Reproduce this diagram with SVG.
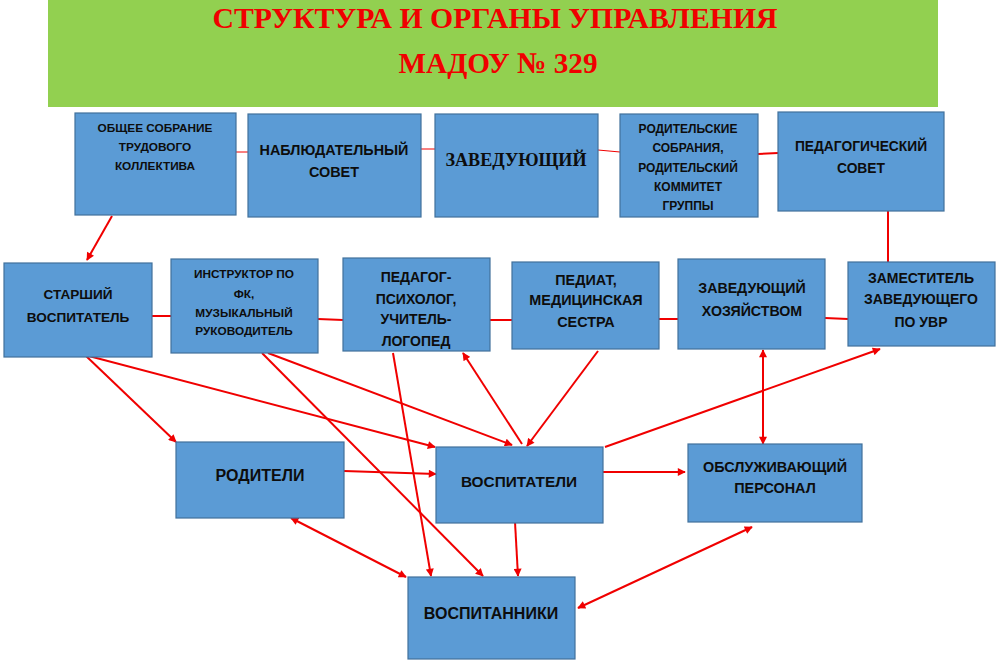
<svg xmlns="http://www.w3.org/2000/svg" width="1000" height="667" viewBox="0 0 1000 667">
<style>
.box{fill:#5B9BD5;stroke:#41719C;stroke-width:1.2}
.t{font-family:"Liberation Sans",Arial,sans-serif;font-weight:bold;fill:#0d0d0d;text-anchor:middle}
.title{font-family:"Liberation Serif","Times New Roman",serif;font-weight:bold;fill:#F00000;text-anchor:middle}
.c{stroke:#F00000;stroke-width:2;fill:none}
.thin{stroke:#F00000;stroke-width:1;fill:none}
.a{marker-end:url(#ah)}
.b{marker-start:url(#ah);marker-end:url(#ah)}
</style>
<defs>
<marker id="ah" viewBox="0 0 10 10" refX="9" refY="5" markerWidth="9" markerHeight="8" markerUnits="userSpaceOnUse" orient="auto-start-reverse">
<path d="M0,0 L10,5 L0,10 z" fill="#F00000"/>
</marker>
</defs>
<rect width="1000" height="667" fill="#ffffff"/>
<g id="header">
<rect x="48" y="0" width="890" height="107" fill="#92D050"/>
<text class="title" x="495" y="28" font-size="30" textLength="565" lengthAdjust="spacingAndGlyphs">СТРУКТУРА И ОРГАНЫ УПРАВЛЕНИЯ</text>
<text class="title" x="498" y="73" font-size="30" textLength="199" lengthAdjust="spacingAndGlyphs">МАДОУ № 329</text>
</g>
<g id="connectors">
<line class="thin" x1="236" y1="152" x2="248" y2="152"/>
<line class="thin" x1="421" y1="149" x2="435" y2="149"/>
<line class="thin" x1="598" y1="150" x2="620" y2="152"/>
<line class="c" x1="758" y1="154" x2="778" y2="153"/>
<line class="c a" x1="112" y1="216" x2="87" y2="260"/>
<line class="c" x1="888" y1="211" x2="888" y2="262"/>
<line class="c" x1="152" y1="316" x2="171" y2="316"/>
<line class="c" x1="318" y1="319" x2="343" y2="320"/>
<line class="c" x1="490" y1="320" x2="512" y2="320"/>
<line class="c" x1="659" y1="319" x2="678" y2="319"/>
<line class="c" x1="825" y1="318" x2="848" y2="319"/>
<line class="c a" x1="85" y1="355" x2="176" y2="442"/>
<line class="c a" x1="85" y1="355" x2="435" y2="447"/>
<line class="c a" x1="262" y1="353" x2="483" y2="576"/>
<line class="c a" x1="268" y1="353" x2="512" y2="445"/>
<line class="c a" x1="393" y1="353" x2="431" y2="576"/>
<line class="c" x1="522" y1="444" x2="463" y2="353" marker-end="url(#ah)"/>
<line class="c a" x1="598" y1="351" x2="527" y2="446"/>
<line class="c a" x1="344" y1="471" x2="436" y2="474"/>
<line class="c b" x1="291" y1="518" x2="406" y2="577"/>
<line class="c a" x1="515" y1="522" x2="518" y2="576"/>
<line class="c a" x1="603" y1="472" x2="685" y2="472"/>
<line class="c a" x1="605" y1="447" x2="880" y2="349"/>
<line class="c b" x1="763" y1="350" x2="763" y2="444"/>
<line class="c b" x1="578" y1="608" x2="752" y2="527"/>
</g>
<g id="n1"><rect class="box" x="75" y="113" width="161" height="102"/>
<text class="t" x="155" font-size="11.8"><tspan x="155" y="132">ОБЩЕЕ СОБРАНИЕ</tspan><tspan x="155" y="151">ТРУДОВОГО</tspan><tspan x="155" y="170">КОЛЛЕКТИВА</tspan></text></g>
<g id="n2"><rect class="box" x="248" y="114" width="173" height="103"/>
<text class="t" x="334" font-size="14.4"><tspan x="334" y="155">НАБЛЮДАТЕЛЬНЫЙ</tspan><tspan x="334" y="177">СОВЕТ</tspan></text></g>
<g id="n3"><rect class="box" x="435" y="114" width="163" height="103"/>
<text class="title" x="516" y="166" font-size="19" style="fill:#0d0d0d" textLength="141" lengthAdjust="spacingAndGlyphs">ЗАВЕДУЮЩИЙ</text></g>
<g id="n4"><rect class="box" x="620" y="114" width="138" height="103"/>
<text class="t" x="688" font-size="12"><tspan x="688" y="133">РОДИТЕЛЬСКИЕ</tspan><tspan x="688" y="152">СОБРАНИЯ,</tspan><tspan x="688" y="172">РОДИТЕЛЬСКИЙ</tspan><tspan x="688" y="191">КОММИТЕТ</tspan><tspan x="688" y="210">ГРУППЫ</tspan></text></g>
<g id="n5"><rect class="box" x="778" y="112" width="166" height="99"/>
<text class="t" x="861" font-size="13.8"><tspan x="861" y="151">ПЕДАГОГИЧЕСКИЙ</tspan><tspan x="861" y="173">СОВЕТ</tspan></text></g>
<g id="n6"><rect class="box" x="4" y="263" width="148" height="94"/>
<text class="t" x="78" font-size="13.6"><tspan x="78" y="299">СТАРШИЙ</tspan><tspan x="78" y="322">ВОСПИТАТЕЛЬ</tspan></text></g>
<g id="n7"><rect class="box" x="171" y="259" width="147" height="94"/>
<text class="t" x="244" font-size="11.8"><tspan x="244" y="278">ИНСТРУКТОР ПО</tspan><tspan x="244" y="298">ФК,</tspan><tspan x="244" y="317">МУЗЫКАЛЬНЫЙ</tspan><tspan x="244" y="335">РУКОВОДИТЕЛЬ</tspan></text></g>
<g id="n8"><rect class="box" x="343" y="258" width="147" height="93"/>
<text class="t" x="416" font-size="14"><tspan x="416" y="282">ПЕДАГОГ-</tspan><tspan x="416" y="304">ПСИХОЛОГ,</tspan><tspan x="416" y="324">УЧИТЕЛЬ-</tspan><tspan x="416" y="346">ЛОГОПЕД</tspan></text></g>
<g id="n9"><rect class="box" x="512" y="262" width="147" height="87"/>
<text class="t" x="586" font-size="14.4"><tspan x="586" y="285">ПЕДИАТ,</tspan><tspan x="586" y="305">МЕДИЦИНСКАЯ</tspan><tspan x="586" y="327">СЕСТРА</tspan></text></g>
<g id="n10"><rect class="box" x="678" y="259" width="147" height="90"/>
<text class="t" x="752" font-size="14.2"><tspan x="752" y="293">ЗАВЕДУЮЩИЙ</tspan><tspan x="752" y="316">ХОЗЯЙСТВОМ</tspan></text></g>
<g id="n11"><rect class="box" x="848" y="262" width="147" height="84"/>
<text class="t" x="921" font-size="14"><tspan x="921" y="283">ЗАМЕСТИТЕЛЬ</tspan><tspan x="921" y="304">ЗАВЕДУЮЩЕГО</tspan><tspan x="921" y="327">ПО УВР</tspan></text></g>
<g id="n12"><rect class="box" x="176" y="442" width="168" height="76"/>
<text class="t" x="260" y="481" font-size="16">РОДИТЕЛИ</text></g>
<g id="n13"><rect class="box" x="436" y="447" width="167" height="76"/>
<text class="t" x="519" y="487" font-size="15.4">ВОСПИТАТЕЛИ</text></g>
<g id="n14"><rect class="box" x="688" y="444" width="174" height="78"/>
<text class="t" x="775" font-size="14.4"><tspan x="775" y="472">ОБСЛУЖИВАЮЩИЙ</tspan><tspan x="775" y="493">ПЕРСОНАЛ</tspan></text></g>
<g id="n15"><rect class="box" x="408" y="577" width="167" height="82"/>
<text class="t" x="491" y="619" font-size="16">ВОСПИТАННИКИ</text></g>
</svg>
